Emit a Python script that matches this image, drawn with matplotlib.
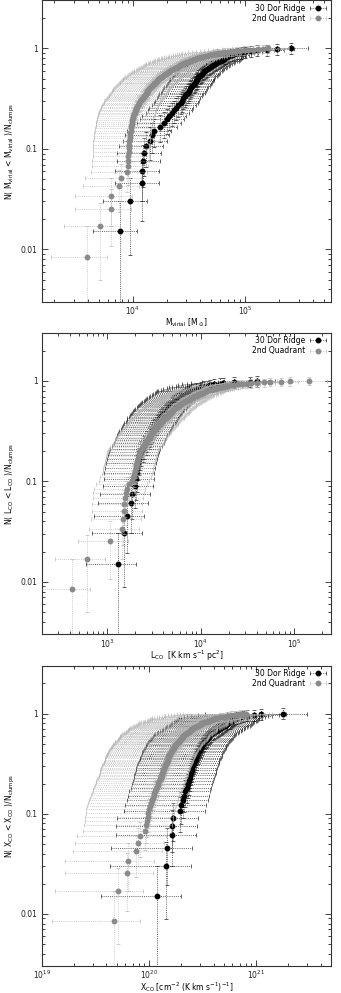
import numpy as np
import matplotlib
matplotlib.use("Agg")
import matplotlib.pyplot as plt
from matplotlib.ticker import LogLocator, FixedLocator, FixedFormatter, NullFormatter
from matplotlib.legend_handler import HandlerErrorbar
from matplotlib.container import ErrorbarContainer

# ---- panel 1: virial mass [Msun], sorted clump values
mvir_dor = [7660, 9460, 12000, 12100, 12400, 12600, 13000, 14200, 14800, 15300,
            17500, 18800, 20000, 21000, 22500, 23500, 24300, 25500, 26600, 27400,
            28200, 29000, 29800, 30700, 31500, 32200, 33000, 34000, 35000, 35800,
            36400, 37000, 37200, 38300, 39300, 40300, 41300, 42300, 43400, 44400,
            45900, 47500, 49000, 50500, 52000, 53800, 55500, 57500, 59500, 61500,
            63000, 64500, 66000, 68000, 70000, 71500, 76000, 80000, 84000, 92000,
            100000, 113000, 127000, 156000, 191000, 257000]
mvir_q2 = [3890, 5120, 6410, 6450, 7550, 7820, 8840, 9020, 9100, 9150,
           9200, 9220, 9250, 9300, 9380, 9450, 9500, 9580, 9660, 9740,
           9820, 9880, 9950, 10030, 10150, 10280, 10400, 10520, 10640, 10780,
           10950, 11120, 11300, 11450, 11600, 11800, 12050, 12300, 12500, 12700,
           12900, 13100, 13300, 13500, 13650, 13800, 13850, 14100, 14400, 14700,
           15000, 15300, 15600, 15900, 16200, 16500, 16700, 16900, 17000, 17400,
           17800, 18200, 18600, 19000, 19400, 19800, 20200, 20600, 21000, 21400,
           21600, 22100, 22600, 23100, 23600, 24100, 24600, 25100, 25600, 26200,
           26700, 27200, 27600, 28300, 29100, 29900, 30700, 31500, 32300, 33200,
           34100, 35000, 36000, 37000, 38200, 39500, 41000, 42500, 44000, 45600,
           47500, 49500, 51500, 53500, 55500, 57500, 61000, 65000, 70000, 76000,
           83000, 90000, 98000, 107000, 118000, 130000, 145000, 160000]

# ---- panel 2: L_CO [K km/s pc^2]
lco_dor = [1310, 1510, 1610, 1780, 1860, 1980, 2030, 2060, 2100, 2150,
           2200, 2240, 2300, 2400, 2500, 2600, 2680, 2770, 2850, 2930,
           3000, 3100, 3200, 3300, 3400, 3500, 3580, 3660, 3760, 3880,
           4000, 4120, 4230, 4330, 4450, 4600, 4750, 4900, 5000, 5100,
           5250, 5450, 5650, 5850, 6000, 6200, 6400, 6650, 6900, 7150,
           7400, 7600, 7800, 8300, 8900, 9600, 10200, 11000, 12000, 12700,
           14000, 16000, 17500, 23000, 34000, 40000]
lco_q2 = [424, 610, 1070, 1430, 1490, 1510, 1530, 1550, 1580, 1620,
          1700, 1830, 1880, 1930, 1980, 2020, 2050, 2080, 2110, 2140,
          2170, 2200, 2230, 2260, 2330, 2400, 2470, 2540, 2600, 2660,
          2720, 2780, 2840, 2900, 2980, 3050, 3130, 3200, 3280, 3360,
          3440, 3520, 3590, 3660, 3730, 3790, 3840, 3940, 4040, 4140,
          4240, 4340, 4440, 4540, 4640, 4740, 4830, 4900, 4920, 5020,
          5120, 5230, 5340, 5460, 5580, 5700, 5830, 5960, 6100, 6200,
          6300, 6480, 6660, 6840, 7030, 7220, 7420, 7620, 7820, 8000,
          8200, 8350, 8500, 8800, 9100, 9400, 9700, 10000, 10300, 10600,
          10900, 11200, 11500, 11700, 12100, 12700, 13300, 14000, 14700, 15400,
          16200, 17000, 17800, 18600, 19000, 19500, 21000, 23000, 25000, 28000,
          31500, 35000, 40000, 47600, 56000, 72000, 92000, 145000]

# ---- panel 3: X_CO in units of 1e20 cm^-2 (K km/s)^-1
xco_dor = [1.18, 1.44, 1.47, 1.62, 1.65, 1.67, 1.96, 2.00, 2.07, 2.12,
           2.18, 2.24, 2.30, 2.35, 2.40, 2.43, 2.46, 2.50, 2.54, 2.58,
           2.62, 2.67, 2.72, 2.76, 2.80, 2.84, 2.89, 2.95, 3.00, 3.05,
           3.10, 3.15, 3.19, 3.26, 3.33, 3.40, 3.48, 3.56, 3.63, 3.70,
           3.82, 3.95, 4.08, 4.22, 4.37, 4.53, 4.65, 4.80, 4.95, 5.10,
           5.25, 5.38, 5.48, 5.65, 5.82, 5.98, 6.10, 6.20, 6.30, 6.60,
           7.10, 7.60, 8.20, 9.60, 11.1, 17.7]
xco_q2 = [0.472, 0.507, 0.628, 0.637, 0.752, 0.790, 0.825, 0.925, 0.945, 0.96,
          0.97, 0.98, 1.00, 1.02, 1.04, 1.06, 1.08, 1.10, 1.12, 1.14,
          1.16, 1.18, 1.20, 1.22, 1.24, 1.26, 1.28, 1.30, 1.32, 1.33,
          1.34, 1.35, 1.37, 1.38, 1.40, 1.41, 1.43, 1.45, 1.46, 1.48,
          1.49, 1.50, 1.51, 1.53, 1.54, 1.55, 1.56, 1.58, 1.60, 1.62,
          1.64, 1.66, 1.68, 1.70, 1.72, 1.74, 1.76, 1.78, 1.80, 1.83,
          1.86, 1.89, 1.92, 1.95, 1.98, 2.00, 2.02, 2.04, 2.06, 2.07,
          2.08, 2.12, 2.16, 2.20, 2.24, 2.28, 2.32, 2.36, 2.40, 2.44,
          2.47, 2.48, 2.50, 2.56, 2.62, 2.68, 2.74, 2.80, 2.86, 2.92,
          2.98, 3.03, 3.06, 3.08, 3.15, 3.25, 3.35, 3.45, 3.55, 3.65,
          3.75, 3.85, 3.95, 4.03, 4.08, 4.10, 4.30, 4.55, 4.80, 5.05,
          5.30, 5.45, 5.80, 6.20, 6.60, 7.00, 7.50, 8.00]

# fractional x uncertainties per panel (dor, q2)
frac_err = [(0.42, 0.52), (0.55, 0.55), (0.70, 0.74)]

labels = ["30 Dor Ridge", "2nd Quadrant"]
xlabels = [r"M$_{\rm virial}$ [M$_\odot$]",
           r"L$_{\rm CO}$  [K km s$^{-1}$ pc$^2$]",
           r"X$_{\rm CO}$ [cm$^{-2}$ (K km s$^{-1}$)$^{-1}$]"]
ylabels = [r"N( M$_{\rm virial}$ < M$_{\rm virial}$ )/N$_{\rm clumps}$",
           r"N( L$_{\rm CO}$ < L$_{\rm CO}$ )/N$_{\rm clumps}$",
           r"N( X$_{\rm CO}$ < X$_{\rm CO}$ )/N$_{\rm clumps}$"]
xlims = [(1560, 5.8e5), (200, 2.5e5), (1e19, 5e21)]
xticks = [[1e4, 1e5], [1e3, 1e4, 1e5], [1e19, 1e20, 1e21]]
xticklabels = [[r"10$^4$", r"10$^5$"], [r"10$^3$", r"10$^4$", r"10$^5$"],
               [r"10$^{19}$", r"10$^{20}$", r"10$^{21}$"]]

data = [(mvir_dor, mvir_q2),
        (lco_dor, lco_q2),
        (np.array(xco_dor) * 1e20, np.array(xco_q2) * 1e20)]

plt.rcParams['font.family'] = ['DejaVu Sans']
plt.rcParams['mathtext.default'] = 'regular'

fig = plt.figure(figsize=(3.41, 9.93), dpi=100)
boxes = [[0.1232, 0.6959, 0.8475, 0.3036],
         [0.1232, 0.3612, 0.8475, 0.3034],
         [0.1232, 0.0269, 0.8475, 0.3027]]

colors = [("black", "#111111"), ("#8a8a8a", "#b4b4b4")]  # (marker, errorbar)

for k in range(3):
    ax = fig.add_axes(boxes[k])
    ax.set_xscale("log")
    ax.set_yscale("log")
    for s in range(2):
        x = np.sort(np.asarray(data[k][s], dtype=float))
        n = len(x)
        rank = np.arange(1, n + 1)
        y = rank / n
        yerr = np.sqrt(rank) / n
        xerr = frac_err[k][s] * x
        mc, ec = colors[s]
        eb = ax.errorbar(x, y, xerr=xerr, yerr=yerr, fmt="o", ms=3.2,
                         mfc=mc, mec=mc, ecolor=ec, elinewidth=0.45,
                         capsize=1.6, capthick=0.45, label=labels[s], zorder=2 + s)
        for lc in eb[2]:
            lc.set_linestyle((0, (1.6, 1.8)))
    ax.set_xlim(*xlims[k])
    ax.set_ylim(0.003, 3)
    ax.xaxis.set_major_locator(FixedLocator(xticks[k]))
    ax.xaxis.set_major_formatter(FixedFormatter(xticklabels[k]))
    ax.xaxis.set_minor_locator(LogLocator(base=10, subs=np.arange(2, 10), numticks=20))
    ax.xaxis.set_minor_formatter(NullFormatter())
    ax.yaxis.set_major_locator(FixedLocator([0.01, 0.1, 1]))
    ax.yaxis.set_major_formatter(FixedFormatter(["0.01", "0.1", "1"]))
    ax.yaxis.set_minor_locator(LogLocator(base=10, subs=np.arange(2, 10), numticks=20))
    ax.yaxis.set_minor_formatter(NullFormatter())
    ax.tick_params(which="both", direction="in", top=True, right=True,
                   labelsize=5.5, colors="#222222", width=0.6)
    ax.tick_params(axis="x", pad=2)
    ax.tick_params(axis="y", pad=3)
    ax.tick_params(which="major", length=4)
    ax.tick_params(which="minor", length=2)
    for sp in ax.spines.values():
        sp.set_linewidth(0.8)
        sp.set_color("#333333")
    ax.set_xlabel(xlabels[k], fontsize=5.5)
    ax.xaxis.set_label_coords(0.5, -0.047)
    ax.set_ylabel(ylabels[k], fontsize=5.5, labelpad=3)
    ax.legend(loc="upper right", frameon=False, fontsize=5.5, markerfirst=False,
              handlelength=2.6, handletextpad=0.4, labelspacing=0.15,
              borderaxespad=0.2, borderpad=0.2,
              handler_map={ErrorbarContainer: HandlerErrorbar(xerr_size=1.1, yerr_size=0.0)})

fig.savefig("out.png", dpi=100)
